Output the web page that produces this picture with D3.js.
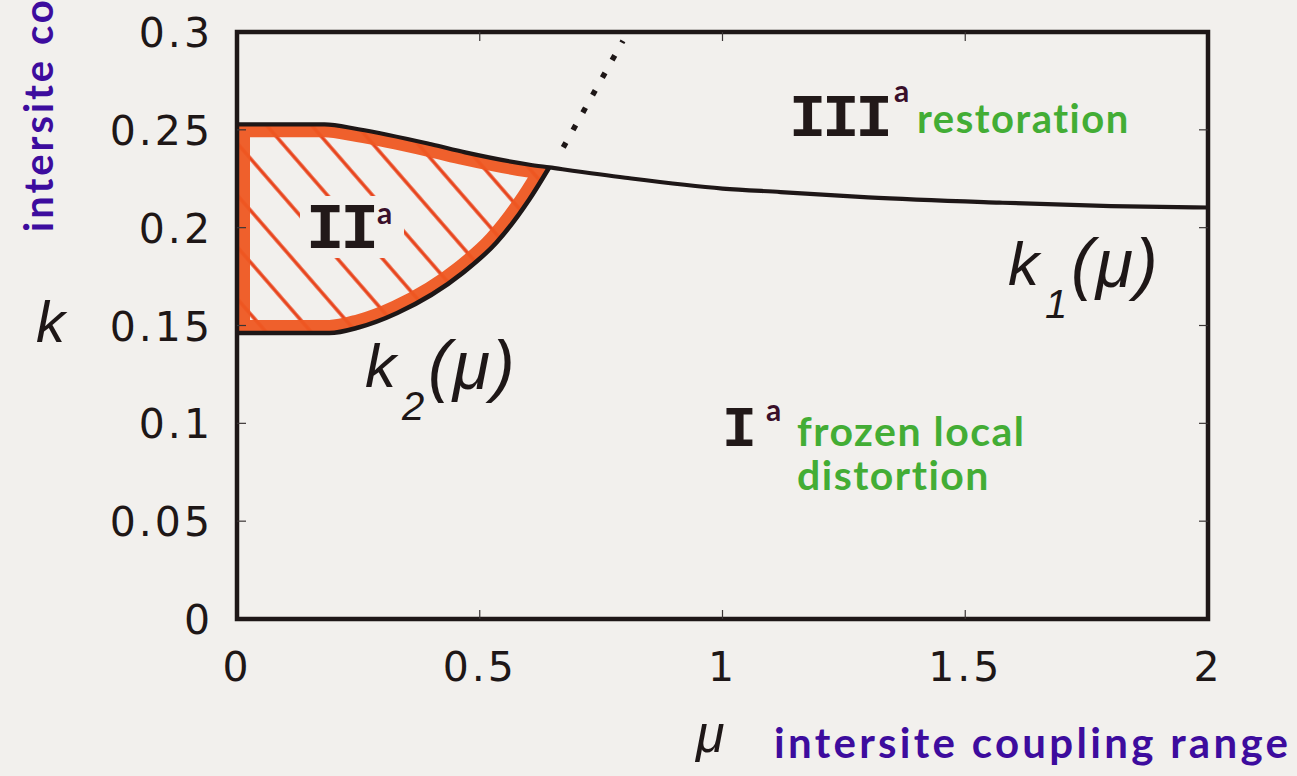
<!DOCTYPE html>
<html>
<head>
<meta charset="utf-8">
<script src="https://cdn.jsdelivr.net/npm/d3@7"></script>
<style>
  html, body { margin: 0; padding: 0; background: #f2f0ed; overflow: hidden; }
  svg { display: block; }
</style>
</head>
<body>
<svg id="chart" width="1297" height="776"></svg>
<script>
// Phase boundaries k1(mu) (upper) and k2(mu) (lower)
const k1Mu  = [0, 0.18, 0.25, 0.40, 0.47, 0.60, 0.643, 0.80, 1.00, 1.12, 1.30, 1.57, 1.80, 2.00];
const k1Val = [0.2528, 0.2528, 0.2503, 0.2426, 0.2385, 0.2323, 0.2308, 0.2255, 0.2200, 0.2182, 0.2155, 0.2128, 0.2110, 0.2103];

const k2Mu  = [0, 0.19, 0.25, 0.33, 0.465, 0.534, 0.602, 0.643];
const k2Val = [0.1462, 0.1462, 0.1490, 0.1564, 0.1769, 0.1923, 0.2144, 0.2308];

// Dotted continuation above the meeting point
const dotMu  = [0.672, 0.795];
const dotVal = [0.241, 0.2955];

// Axis ticks
const xTicks = [0, 0.5, 1, 1.5, 2];
const xTickLabels = ["0", "0.5", "1", "1.5", "2"];
const yTicks = [0, 0.05, 0.1, 0.15, 0.2, 0.25, 0.3];
const yTickLabels = ["0", "0.05", "0.1", "0.15", "0.2", "0.25", "0.3"];

const svg = d3.select("#chart");
const x = d3.scaleLinear().domain([0, 2]).range([237, 1208]);
const y = d3.scaleLinear().domain([0, 0.3]).range([619, 32]);

const ink = "#1e1717";
const orange = "#ee5722";
const green = "#43ad35";
const purple = "#3d0c9e";
const bg = "#f2f0ed";

const k1 = k1Mu.map((m, i) => [m, k1Val[i]]);
const k2 = k2Mu.map((m, i) => [m, k2Val[i]]);

const line = d3.line().x(d => x(d[0])).y(d => y(d[1])).curve(d3.curveMonotoneX);

// Region II: along k1 up to the meeting point, back along k2, closed on the k axis
const k1Part = k1.filter(d => d[0] <= 0.643);
const lowerPath = line(k2.slice().sort((a, b) => b[0] - a[0]));
const regionD = line(k1Part) + "L" + lowerPath.slice(1) + "Z";

const defs = svg.append("defs");
defs.append("clipPath").attr("id", "regionClip")
  .append("path").attr("d", regionD);

const pat = defs.append("pattern")
  .attr("id", "hatch")
  .attr("patternUnits", "userSpaceOnUse")
  .attr("width", 12).attr("height", 34)
  .attr("patternTransform", "rotate(49)");
pat.append("line")
  .attr("x1", 0).attr("x2", 12).attr("y1", 17).attr("y2", 17)
  .attr("stroke", "#e8431b").attr("stroke-width", 3.4);

// hatching
svg.append("rect")
  .attr("x", x(0)).attr("y", y(0.26)).attr("width", x(0.7) - x(0)).attr("height", y(0.14) - y(0.26))
  .attr("fill", "url(#hatch)")
  .attr("clip-path", "url(#regionClip)");

// gap in hatching around the region label
svg.append("rect")
  .attr("x", 300).attr("y", 196).attr("width", 104).attr("height", 62).attr("rx", 12)
  .attr("fill", bg)
  .attr("clip-path", "url(#regionClip)");

// thick orange outline inside the region
svg.append("path")
  .attr("d", regionD)
  .attr("fill", "none")
  .attr("stroke", orange)
  .attr("stroke-width", 26)
  .attr("stroke-linejoin", "round")
  .attr("clip-path", "url(#regionClip)")
  .attr("opacity", 0.95);

// boundary curves
svg.append("path").attr("d", line(k1))
  .attr("fill", "none").attr("stroke", ink).attr("stroke-width", 4.2);
svg.append("path").attr("d", line(k2))
  .attr("fill", "none").attr("stroke", ink).attr("stroke-width", 4.6);
svg.append("path")
  .attr("d", d3.line().x(d => x(d[0])).y(d => y(d[1])).curve(d3.curveLinear)(dotMu.map((m, i) => [m, dotVal[i]])))
  .attr("fill", "none").attr("stroke", ink).attr("stroke-width", 5.5)
  .attr("stroke-dasharray", "5.5 14.5");

// frame
svg.append("rect")
  .attr("x", x(0)).attr("y", y(0.3)).attr("width", x(2) - x(0)).attr("height", y(0) - y(0.3))
  .attr("fill", "none").attr("stroke", ink).attr("stroke-width", 4.5);

// inward ticks
const tickLen = 9;
const g = svg.append("g").attr("stroke", "#3a3535").attr("stroke-width", 1.2);
yTicks.slice(1, -1).forEach(t => {
  g.append("line").attr("x1", x(0)).attr("x2", x(0) + tickLen).attr("y1", y(t)).attr("y2", y(t));
  g.append("line").attr("x1", x(2)).attr("x2", x(2) - tickLen).attr("y1", y(t)).attr("y2", y(t));
});
xTicks.slice(1, -1).forEach(t => {
  g.append("line").attr("x1", x(t)).attr("x2", x(t)).attr("y1", y(0)).attr("y2", y(0) - tickLen);
  g.append("line").attr("x1", x(t)).attr("x2", x(t)).attr("y1", y(0.3)).attr("y2", y(0.3) + tickLen);
});

// tick labels
const tickFont = "'DejaVu Sans', sans-serif";
svg.append("g").selectAll("text").data(yTicks).join("text")
  .attr("x", 213).attr("y", d => y(d) + 15)
  .attr("text-anchor", "end")
  .attr("font-family", tickFont).attr("font-size", 41).attr("letter-spacing", 3)
  .attr("fill", ink)
  .text((d, i) => yTickLabels[i]);
svg.append("g").selectAll("text").data(xTicks).join("text")
  .attr("x", d => x(d)).attr("y", 681)
  .attr("text-anchor", "middle")
  .attr("font-family", tickFont).attr("font-size", 41).attr("letter-spacing", 3)
  .attr("fill", ink)
  .text((d, i) => xTickLabels[i]);

// axis symbols
const mathFont = "'Liberation Sans', Arial, sans-serif";
svg.append("text").attr("x", 36).attr("y", 342)
  .attr("font-family", mathFont).attr("font-style", "italic").attr("font-size", 58)
  .attr("fill", ink).text("k");
svg.append("text").attr("x", 696).attr("y", 752)
  .attr("font-family", mathFont).attr("font-style", "italic").attr("font-size", 52)
  .attr("fill", ink).text("μ");

// handwritten axis descriptions
const handFont = "Lato, 'Open Sans', sans-serif";
svg.append("text").attr("x", 774).attr("y", 758)
  .attr("font-family", handFont).attr("font-weight", 700).attr("font-size", 42)
  .attr("letter-spacing", 3.3)
  .attr("fill", purple).text("intersite coupling range");
svg.append("text")
  .attr("transform", "translate(53,232) rotate(-90)")
  .attr("font-family", handFont).attr("font-weight", 700).attr("font-size", 40)
  .attr("letter-spacing", 3)
  .attr("fill", purple).text("intersite coupling strength");

// curve names
function curveName(px, py, sub) {
  svg.append("text").attr("x", px).attr("y", py)
    .attr("font-family", mathFont).attr("font-style", "italic").attr("font-size", 62)
    .attr("fill", ink).text("k");
  svg.append("text").attr("x", px + 37).attr("y", py + 33)
    .attr("font-family", mathFont).attr("font-style", "italic").attr("font-size", 40)
    .attr("fill", ink).text(sub);
  svg.append("text").attr("x", px + 63).attr("y", py + 2)
    .attr("font-family", mathFont).attr("font-style", "italic").attr("font-size", 68)
    .attr("letter-spacing", 2)
    .attr("fill", ink).text("(μ)");
}
curveName(1008, 285, "1");
curveName(365, 387, "2");

// phase labels
const romanFont = "'Liberation Mono', 'Courier New', monospace";
function phase(px, py, label, size, sx, sy) {
  svg.append("text").attr("x", px).attr("y", py)
    .attr("font-family", romanFont).attr("font-weight", 700).attr("font-size", size)
    .attr("letter-spacing", -4)
    .attr("fill", "#221919").text(label);
  svg.append("text").attr("x", sx).attr("y", sy)
    .attr("font-family", handFont).attr("font-weight", 700).attr("font-size", 30)
    .attr("fill", "#3a0f2a").text("a");
}
phase(306, 248, "II", 64, 377, 224);
phase(789, 136, "III", 62, 894, 102);
phase(722, 446, "I", 58, 766, 421);

svg.append("text").attr("x", 917).attr("y", 133)
  .attr("font-family", handFont).attr("font-weight", 700).attr("font-size", 40)
  .attr("letter-spacing", 1.5)
  .attr("fill", green).text("restoration");
svg.append("text").attr("x", 797).attr("y", 446)
  .attr("font-family", handFont).attr("font-weight", 700).attr("font-size", 41)
  .attr("letter-spacing", 1.5)
  .attr("fill", green).text("frozen local");
svg.append("text").attr("x", 797).attr("y", 490)
  .attr("font-family", handFont).attr("font-weight", 700).attr("font-size", 41)
  .attr("letter-spacing", 1.5)
  .attr("fill", green).text("distortion");
</script>
</body>
</html>
